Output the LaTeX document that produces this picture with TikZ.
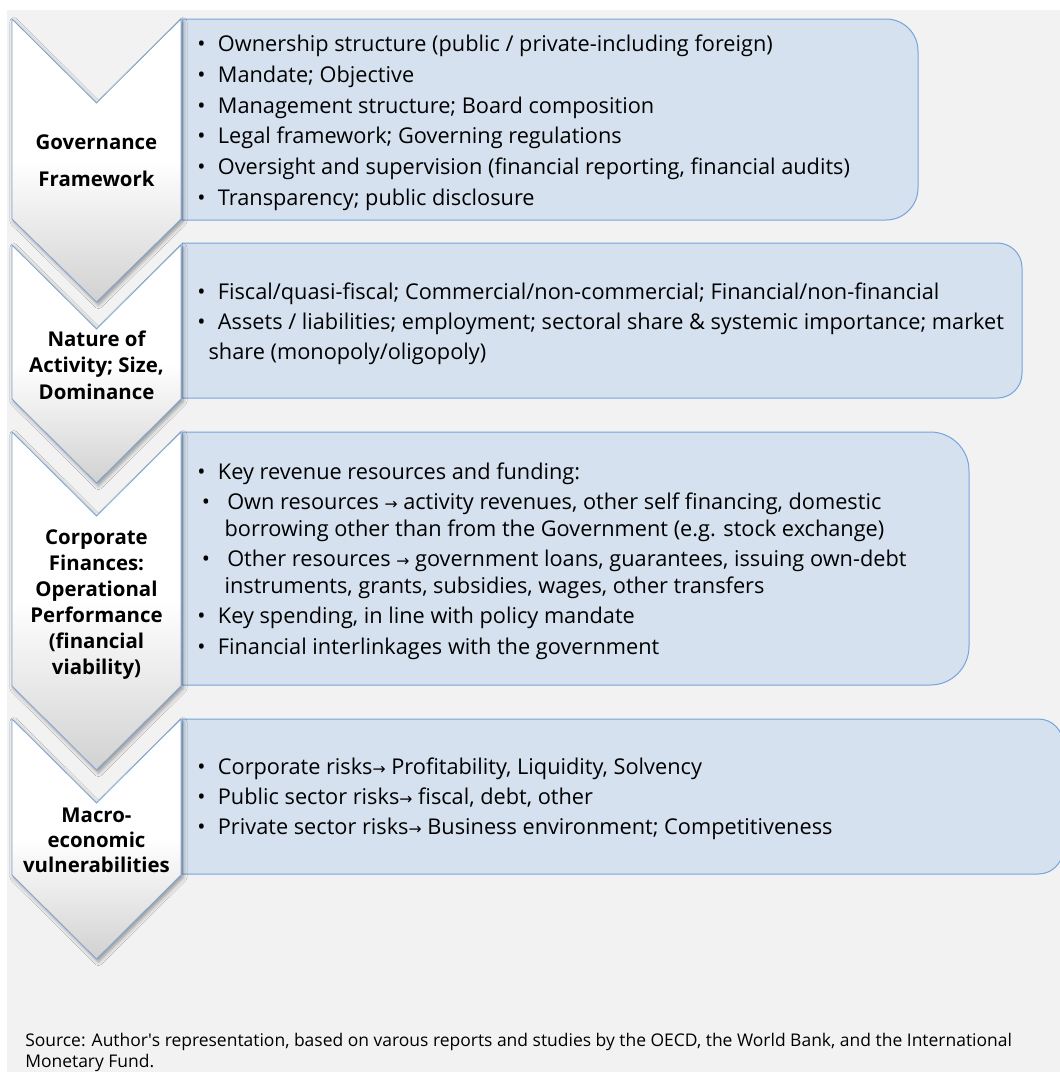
\documentclass[tikz,border=0pt]{standalone}
\usepackage{fontspec}
\setmainfont{Open Sans}
\newfontfamily\arrowfont{DejaVu Sans}[Scale=0.72]
\usepackage{tikz}
\usetikzlibrary{positioning, shadows.blur}
\definecolor{pagegray}{HTML}{F2F2F2}
\definecolor{boxfill}{HTML}{D5E1EF}
\definecolor{boxline}{HTML}{76A4DA}
\definecolor{chevline}{HTML}{7EA5D2}
\newcommand{\bul}[1][15.5pt]{\makebox[#1][l]{\textbullet}}
\newcommand{\ra}{{\arrowfont →}}
\newcommand{\tagfont}[1]{\bfseries\fontsize{15.3}{#1}\selectfont}
\tikzstyle{chevron} = [
  draw = chevline, line width = 0.6pt,
  top color = white, bottom color = black!18, middle color = white,
  blur shadow = {shadow xshift = 1.5pt, shadow yshift = -2pt,
    shadow opacity = 40, shadow blur radius = 3pt}
]
\tikzstyle{panel} = [fill = boxfill, draw = boxline, line width = 0.75pt]
\tikzstyle{item} = [anchor = west, inner sep = 0, text height = 11.5pt,
  text depth = 0pt, font = \fontsize{16.3}{19}\selectfont]
\tikzstyle{tag} = [align = center, inner sep = 0]

\begin{document}
\begin{tikzpicture}[x = 0.75pt, y = -0.75pt]
  \useasboundingbox (0, 0) rectangle (1060, 1072);
  \fill [white] (0, 0) rectangle (1060, 1072);
  \fill [pagegray] (7, 10) rectangle (1060, 1072);

  % panels
  \draw [panel] (182, 19) [rounded corners = 24pt] -- (918, 19) -- (918, 220)
    [sharp corners] -- (182, 220) -- cycle;
  \draw [panel] (182, 243) [rounded corners = 18.5pt] -- (1022, 243) -- (1022, 398)
    [sharp corners] -- (182, 398) -- cycle;
  \draw [panel] (182, 432) [rounded corners = 29pt] -- (969, 432) -- (969, 685)
    [sharp corners] -- (182, 685) -- cycle;
  \draw [panel] (182, 719) [rounded corners = 18.5pt] -- (1063, 719) -- (1063, 874)
    [sharp corners] -- (182, 874) -- cycle;

  % chevrons, last one first
  \draw [chevron] (12, 719) -- (96.5, 803) -- (181, 719) -- (181, 875)
    -- (96.5, 959) -- (12, 875) -- cycle;
  \draw [chevron] (12, 432) -- (96.5, 516) -- (181, 432) -- (181, 686)
    -- (96.5, 770) -- (12, 686) -- cycle;
  \draw [chevron] (12, 245) -- (96.5, 329) -- (181, 245) -- (181, 399)
    -- (96.5, 483) -- (12, 399) -- cycle;
  \draw [chevron] (12, 19) -- (96.5, 103) -- (181, 19) -- (181, 219)
    -- (96.5, 302) -- (12, 219) -- cycle;

  % chevron labels
  \node [tag, font = \tagfont{27.75pt}] (gov-tag) at (96.5, 161)
    {Governance\\Framework};
  \node [tag, font = \tagfont{20pt}] (nat-tag) at (96.5, 365)
    {Nature of\\Activity; Size,\\Dominance};
  \node [tag, font = \tagfont{19.5pt}] (cor-tag) at (96.5, 605)
    {Corporate\\Finances:\\Operational\\Performance\\(financial\\viability)};
  \node [tag, font = \tagfont{18.75pt}] (mac-tag) at (96.5, 840)
    {Macro-\\economic\\vulnerabilities};

  % governance
  \node [item] (gov-1) at (197, 44)
    {\bul Ownership structure (public / private-including foreign)};
  \node [below = 23pt of gov-1.west, item] (gov-2) {\bul Mandate; Objective};
  \node [below = 23pt of gov-2.west, item] (gov-3)
    {\bul Management structure; Board composition};
  \node [below = 23pt of gov-3.west, item] (gov-4)
    {\bul Legal framework; Governing regulations};
  \node [below = 23pt of gov-4.west, item] (gov-5)
    {\bul Oversight and supervision (financial reporting, financial audits)};
  \node [below = 23pt of gov-5.west, item] (gov-6)
    {\bul Transparency; public disclosure};

  % nature of activity
  \node [item] (nat-1) at (197, 292)
    {\bul Fiscal/quasi-fiscal; Commercial/non-commercial; Financial/non-financial};
  \node [below = 22.5pt of nat-1.west, item] (nat-2)
    {\bul Assets / liabilities; employment; sectoral share \& systemic importance; market};
  \node [below = 22.5pt of nat-2.west, item, xshift = 8.5pt] (nat-3)
    {share (monopoly/oligopoly)};

  % corporate finances
  \node [item] (cor-1) at (197, 472) {\bul Key revenue resources and funding:};
  \node [below = 22.5pt of cor-1.west, item, xshift = 3.5pt] (cor-2)
    {\bul[19pt]Own resources \ra{} activity revenues, other self financing, domestic};
  \node [below = 20.25pt of cor-2.west, item, xshift = 17pt] (cor-3)
    {borrowing other than from the Government (e.g. stock exchange)};
  \node [below = 22.5pt of cor-3.west, item, xshift = -17pt] (cor-4)
    {\bul[19pt]Other resources \ra{} government loans, guarantees, issuing own-debt};
  \node [below = 20.25pt of cor-4.west, item, xshift = 17pt] (cor-5)
    {instruments, grants, subsidies, wages, other transfers};
  \node [below = 22.5pt of cor-5.west, item, xshift = -20.5pt] (cor-6)
    {\bul Key spending, in line with policy mandate};
  \node [below = 23pt of cor-6.west, item] (cor-7)
    {\bul Financial interlinkages with the government};

  % macroeconomic vulnerabilities
  \node [item] (mac-1) at (197, 767)
    {\bul Corporate risks\ra{} Profitability, Liquidity, Solvency};
  \node [below = 22.5pt of mac-1.west, item] (mac-2)
    {\bul Public sector risks\ra{} fiscal, debt, other};
  \node [below = 22.5pt of mac-2.west, item] (mac-3)
    {\bul Private sector risks\ra{} Business environment; Competitiveness};

  % source
  \node [item, font = \fontsize{13.1}{15}\selectfont, text height = 9.5pt] (src-1)
    at (25, 1040) {Source: Author\textquotesingle s representation, based on varous
    reports and studies by the OECD, the World Bank, and the International};
  \node [below = 15.5pt of src-1.west, item, font = \fontsize{13.1}{15}\selectfont,
    text height = 9.5pt] (src-2) {Monetary Fund.};
\end{tikzpicture}
\end{document}
